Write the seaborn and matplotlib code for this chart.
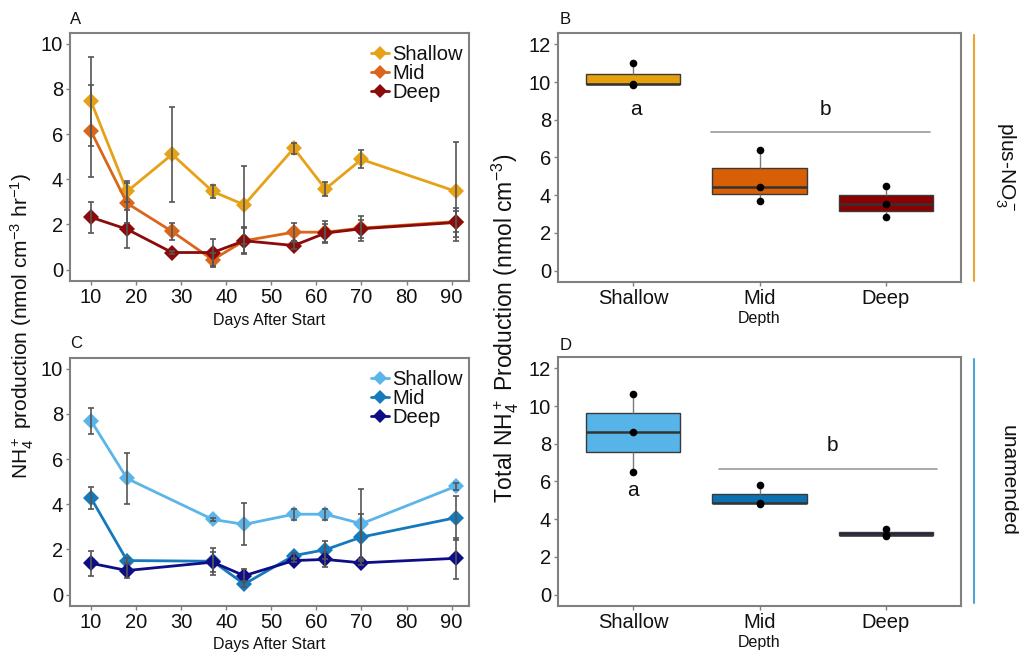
import numpy as np
import pandas as pd
import matplotlib
matplotlib.use("Agg")
import matplotlib.pyplot as plt
from matplotlib.lines import Line2D
import seaborn as sns

sns.set_theme(style="white")
plt.rcParams["font.family"] = ["Liberation Sans", "DejaVu Sans"]
plt.rcParams["mathtext.fontset"] = "custom"
plt.rcParams["mathtext.rm"] = "Liberation Sans"
plt.rcParams["mathtext.it"] = "Liberation Sans:italic"

# ---- time series: NH4+ production rate ----
depths = ["Shallow", "Mid", "Deep"]

days_no3 = [10, 18, 28, 37, 44, 55, 62, 70, 91]
no3_shallow = [7.45, 3.46, 5.10, 3.46, 2.87, 5.37, 3.57, 4.88, 3.46]
no3_shallow_sd = [1.97, 0.47, 2.10, 0.30, 1.73, 0.25, 0.30, 0.40, 2.17]
no3_mid = [6.13, 2.94, 1.69, 0.44, 1.28, 1.66, 1.66, 1.84, 2.13]
no3_mid_sd = [2.05, 0.88, 0.38, 0.30, 0.55, 0.40, 0.50, 0.55, 0.45]
no3_deep = [2.32, 1.79, 0.76, 0.76, 1.28, 1.07, 1.62, 1.81, 2.09]
no3_deep_sd = [0.68, 0.85, 0.05, 0.60, 0.60, 0.15, 0.40, 0.40, 0.65]

days_un = [10, 18, 37, 44, 55, 62, 70, 91]
un_shallow = [7.70, 5.14, 3.33, 3.11, 3.56, 3.56, 3.14, 4.80]
un_shallow_sd = [0.57, 1.13, 0.08, 0.93, 0.25, 0.25, 1.55, 0.15]
un_mid = [4.28, 1.51, 1.48, 0.47, 1.73, 1.99, 2.55, 3.41]
un_mid_sd = [0.50, 0.10, 0.60, 0.15, 0.10, 0.40, 1.00, 0.97]
un_deep = [1.39, 1.07, 1.44, 0.84, 1.51, 1.56, 1.41, 1.61]
un_deep_sd = [0.55, 0.35, 0.45, 0.30, 0.08, 0.35, 0.08, 0.90]

# ---- total production per core (three replicates per depth) ----
tot_no3_shallow = [9.85, 9.90, 11.00]
tot_no3_mid = [3.70, 4.46, 6.39]
tot_no3_deep = [2.82, 3.56, 4.51]
tot_un_shallow = [6.51, 8.62, 10.65]
tot_un_mid = [4.82, 4.86, 5.81]
tot_un_deep = [3.10, 3.18, 3.48]

pal_no3 = ["#E6A117", "#D9661A", "#8B0A0A"]
pal_un = ["#5BB5E8", "#1679BC", "#0D0D85"]
box_no3 = ["#E6A00E", "#D75F05", "#8B0000"]
box_un = ["#56B4E9", "#0A72B2", "#1E1C55"]

INK = "#111111"
W, H = 1019, 652
fig = plt.figure(figsize=(W / 100, H / 100), dpi=100)


def px_axes(x0, y0, x1, y1):
    return fig.add_axes([x0 / W, 1 - y1 / H, (x1 - x0) / W, (y1 - y0) / H])


def style_frame(ax):
    for s in ax.spines.values():
        s.set_color("#808080")
        s.set_linewidth(1.5)
    ax.tick_params(axis="both", which="both", length=3, width=1, color="#808080",
                   labelsize=14.5, labelcolor=INK, pad=2, bottom=True, left=True)


def long_frame(days, series):
    rows = []
    for name, (vals, sds) in zip(depths, series):
        for d, v, s in zip(days, vals, sds):
            rows.append({"day": d, "value": v, "sd": s, "depth": name})
    return pd.DataFrame(rows)


def time_panel(ax, df, pal):
    sns.lineplot(data=df, x="day", y="value", hue="depth", hue_order=depths,
                 palette=pal, marker="D", markersize=8, markeredgewidth=0,
                 linewidth=2, errorbar=None, legend=False, ax=ax, zorder=2)
    for name in depths:
        sub = df[df["depth"] == name]
        ax.errorbar(sub["day"], sub["value"], yerr=sub["sd"], fmt="none",
                    ecolor="#555555", elinewidth=1.2, capsize=2.5, capthick=1.2,
                    zorder=3)
    ax.set_xlim(5.35, 93.85)
    ax.set_ylim(-0.5, 10.47)
    ax.set_xticks(range(10, 100, 10))
    ax.set_yticks(range(0, 11, 2))
    ax.set_xlabel("Days After Start", fontsize=11.5, labelpad=4, color=INK)
    ax.set_ylabel("")
    style_frame(ax)
    handles = [Line2D([0], [0], color=c, marker="D", markersize=7.5, lw=2,
                      markeredgewidth=0) for c in pal]
    ax.legend(handles, depths, loc="upper right", bbox_to_anchor=(0.985, 0.95),
              fontsize=14.5, frameon=False, labelspacing=0.0, handlelength=0.9,
              handletextpad=0.15, borderpad=0, borderaxespad=0, labelcolor=INK)


def box_panel(ax, groups, pal, a_xy, b_xy, bar_y, bar_x):
    rows = []
    for name, vals in zip(depths, groups):
        for v in vals:
            rows.append({"depth": name, "value": v})
    df = pd.DataFrame(rows)
    sns.boxplot(data=df, x="depth", y="value", order=depths, hue="depth",
                hue_order=depths, palette=pal, width=0.75, linewidth=1,
                linecolor="#3a3a3a", showfliers=False, showcaps=False,
                saturation=1, legend=False, ax=ax,
                whiskerprops={"color": "#7a7a7a", "linewidth": 1},
                medianprops={"color": "#333333", "linewidth": 1.8})
    sns.stripplot(data=df, x="depth", y="value", order=depths, jitter=False,
                  color="black", size=5.5, ax=ax, zorder=4)
    ax.set_xlim(-0.593, 2.593)
    ax.set_ylim(-0.6, 12.6)
    ax.set_yticks(range(0, 13, 2))
    ax.set_xlabel("Depth", fontsize=11.5, labelpad=2, color=INK)
    ax.set_ylabel("")
    style_frame(ax)
    ax.text(a_xy[0], a_xy[1], "a", fontsize=15, ha="center", va="center", color=INK)
    ax.text(b_xy[0], b_xy[1], "b", fontsize=15, ha="center", va="center", color=INK)
    ax.plot(bar_x, [bar_y, bar_y], color="#9a9a9a", lw=1.2)


axA = px_axes(70, 33, 469, 281)
axC = px_axes(70, 358, 469, 606)
axB = px_axes(558, 33, 961, 282)
axD = px_axes(558, 357, 961, 606)

time_panel(axA, long_frame(days_no3, [(no3_shallow, no3_shallow_sd),
                                       (no3_mid, no3_mid_sd),
                                       (no3_deep, no3_deep_sd)]), pal_no3)
time_panel(axC, long_frame(days_un, [(un_shallow, un_shallow_sd),
                                      (un_mid, un_mid_sd),
                                      (un_deep, un_deep_sd)]), pal_un)

box_panel(axB, [tot_no3_shallow, tot_no3_mid, tot_no3_deep], box_no3,
          (0.02, 8.55), (1.52, 8.55), 7.37, [0.62, 2.35])
box_panel(axD, [tot_un_shallow, tot_un_mid, tot_un_deep], box_un,
          (0.0, 5.5), (1.58, 7.9), 6.67, [0.68, 2.4])

# panel letters
for lab, x, y in [("A", 70, 20), ("B", 560, 20), ("C", 70, 344), ("D", 560, 345)]:
    fig.text(x / W, 1 - y / H, lab, fontsize=12, ha="left", va="center", color=INK)

# shared axis titles
fig.text(22 / W, 1 - 326 / H,
         r"NH$_4^+$ production (nmol cm$^{-3}$ hr$^{-1}$)",
         rotation=90, fontsize=15, ha="center", va="center", color=INK)
fig.text(505 / W, 1 - 328 / H,
         r"Total NH$_4^+$ Production (nmol cm$^{-3}$)",
         rotation=90, fontsize=16.5, ha="center", va="center", color=INK)

# treatment strips on the right
fig.add_artist(Line2D([974 / W, 974 / W], [1 - 35 / H, 1 - 281 / H],
                      color="#E8A530", lw=1.5))
fig.add_artist(Line2D([974 / W, 974 / W], [1 - 359 / H, 1 - 603 / H],
                      color="#4FA3D6", lw=1.5))
fig.text(1005 / W, 1 - 167 / H, r"plus-NO$_3^-$", rotation=270, fontsize=15,
         ha="center", va="center", color=INK)
fig.text(1008 / W, 1 - 480 / H, "unamended", rotation=270, fontsize=15,
         ha="center", va="center", color=INK)

fig.savefig("out.png", dpi=100)
